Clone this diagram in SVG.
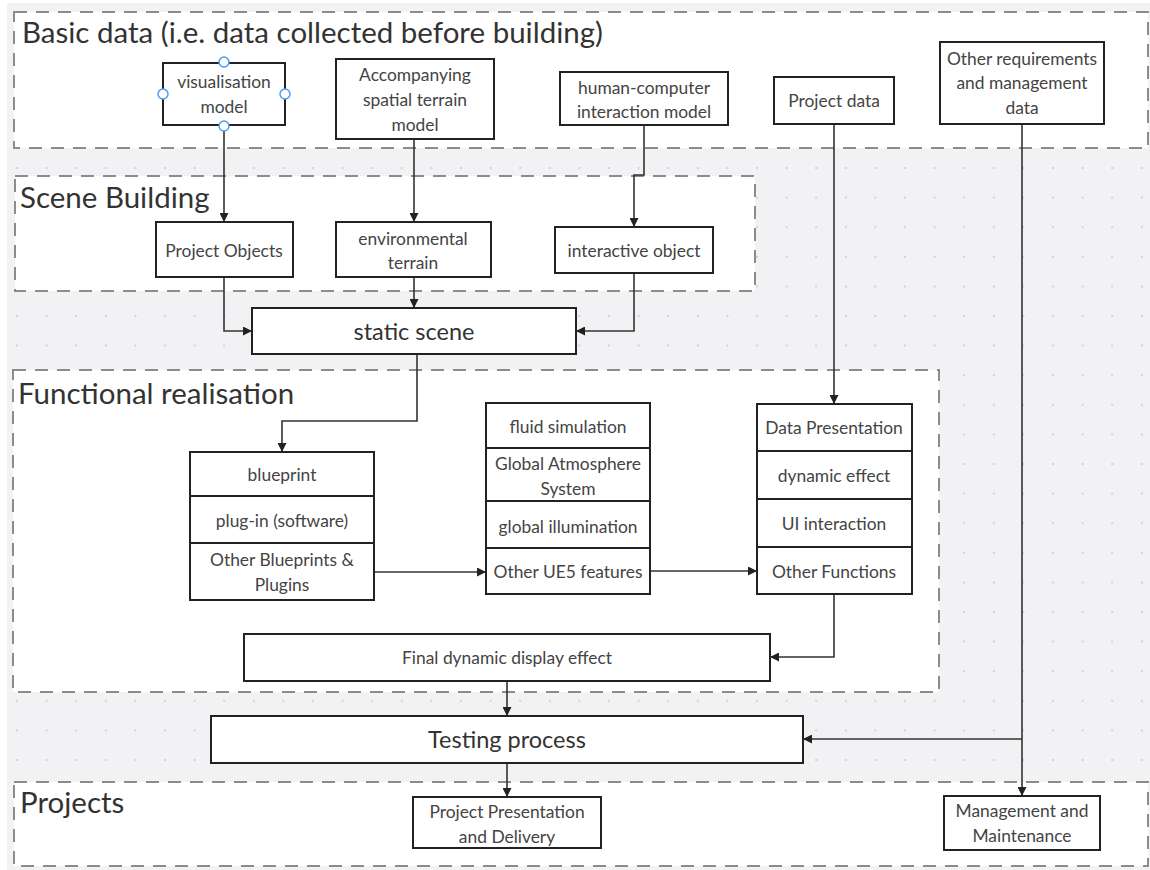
<svg xmlns="http://www.w3.org/2000/svg" width="1150" height="870" viewBox="0 0 1150 870">
<style>
.grp{fill:#ffffff;stroke:#8c8c8c;stroke-width:2;stroke-dasharray:13 9}
.title{font-family:Lato,"Noto Sans",sans-serif;font-size:29.5px;fill:#333}
.box{fill:#ffffff;stroke:#222;stroke-width:2}
.t{font-family:Lato,"Noto Sans",sans-serif;font-size:17.4px;fill:#444;text-anchor:middle;dominant-baseline:central}
.tl{font-family:Lato,"Noto Sans",sans-serif;font-size:23.5px;fill:#333;text-anchor:middle;dominant-baseline:central}
.c{fill:none;stroke:#333;stroke-width:1.6}
.h{fill:#fff;stroke:#4a9df8;stroke-width:1.5}
</style>
<defs>
<pattern id="dots" patternUnits="userSpaceOnUse" x="2.2" y="5.2" width="29.6" height="29.6">
<circle cx="14.8" cy="14.8" r="1" fill="#c9c9ce"/>
</pattern>
<marker id="arr" viewBox="0 0 10 10" refX="10" refY="5" markerWidth="9" markerHeight="9" markerUnits="userSpaceOnUse" orient="auto">
<path d="M0,0 L10,5 L0,10 z" fill="#222"/>
</marker>
</defs>
<rect x="0" y="0" width="1150" height="870" fill="#ffffff"/>
<rect x="7" y="3" width="1143" height="867" fill="#f2f2f4"/>
<rect x="7" y="3" width="1143" height="867" fill="url(#dots)"/>

<g id="group-basic-data">
<rect class="grp" x="14" y="12" width="1134" height="136"/>
<text class="title" x="22" y="43">Basic data (i.e. data collected before building)</text>
</g>
<g id="group-scene-building">
<rect class="grp" x="15" y="176" width="740" height="115"/>
<text class="title" x="20" y="208">Scene Building</text>
</g>
<g id="group-functional">
<rect class="grp" x="13" y="370" width="926" height="322"/>
<text class="title" x="18" y="404">Functional realisation</text>
</g>
<g id="group-projects">
<rect class="grp" x="14" y="782" width="1134" height="84"/>
<text class="title" x="20" y="813">Projects</text>
</g>

<g id="connectors">
<path class="c" d="M224,125 V222" marker-end="url(#arr)"/>
<path class="c" d="M414,139 V222" marker-end="url(#arr)"/>
<path class="c" d="M644,125 V175 H634 V227" marker-end="url(#arr)"/>
<path class="c" d="M224,277 V331 H252" marker-end="url(#arr)"/>
<path class="c" d="M414,277 V308" marker-end="url(#arr)"/>
<path class="c" d="M634,273 V331 H576" marker-end="url(#arr)"/>
<path class="c" d="M417,354 V421 H282 V452" marker-end="url(#arr)"/>
<path class="c" d="M834,124 V404" marker-end="url(#arr)"/>
<path class="c" d="M374,572 H486" marker-end="url(#arr)"/>
<path class="c" d="M650,571 H757" marker-end="url(#arr)"/>
<path class="c" d="M834,594 V657 H770" marker-end="url(#arr)"/>
<path class="c" d="M507,681 V716" marker-end="url(#arr)"/>
<path class="c" d="M507,763 V797" marker-end="url(#arr)"/>
<path class="c" d="M1022,124 V796" marker-end="url(#arr)"/>
<path class="c" d="M1022,739 H803" marker-end="url(#arr)"/>
</g>

<g id="node-visualisation-model">
<rect class="box" x="163" y="63" width="122" height="62"/>
<text class="t" x="224" y="81">visualisation</text>
<text class="t" x="224" y="106">model</text>
<circle class="h" cx="224" cy="62" r="5"/>
<circle class="h" cx="163" cy="94" r="5"/>
<circle class="h" cx="285" cy="94" r="5"/>
<circle class="h" cx="224" cy="126" r="5"/>
</g>
<g id="node-terrain-model">
<rect class="box" x="336" y="59" width="158" height="80"/>
<text class="t" x="415" y="74">Accompanying</text>
<text class="t" x="415" y="99">spatial terrain</text>
<text class="t" x="415" y="124">model</text>
</g>
<g id="node-hci-model">
<rect class="box" x="560" y="72" width="168" height="53"/>
<text class="t" x="644" y="87">human-computer</text>
<text class="t" x="644" y="111">interaction model</text>
</g>
<g id="node-project-data">
<rect class="box" x="774" y="77" width="120" height="47"/>
<text class="t" x="834" y="100">Project data</text>
</g>
<g id="node-other-requirements">
<rect class="box" x="940" y="42" width="164" height="82"/>
<text class="t" x="1022" y="58">Other requirements</text>
<text class="t" x="1022" y="82">and management</text>
<text class="t" x="1022" y="107">data</text>
</g>

<g id="node-project-objects">
<rect class="box" x="156" y="222" width="137" height="55"/>
<text class="t" x="224" y="250">Project Objects</text>
</g>
<g id="node-environmental-terrain">
<rect class="box" x="336" y="222" width="155" height="55"/>
<text class="t" x="413" y="238">environmental</text>
<text class="t" x="413" y="262">terrain</text>
</g>
<g id="node-interactive-object">
<rect class="box" x="555" y="227" width="158" height="46"/>
<text class="t" x="634" y="250">interactive object</text>
</g>

<g id="node-static-scene">
<rect class="box" x="252" y="308" width="324" height="46"/>
<text class="tl" x="414" y="331">static scene</text>
</g>

<g id="node-blueprint-stack">
<rect class="box" x="190" y="452" width="184" height="44"/>
<text class="t" x="282" y="474">blueprint</text>
<rect class="box" x="190" y="496" width="184" height="47"/>
<text class="t" x="282" y="520">plug-in (software)</text>
<rect class="box" x="190" y="543" width="184" height="57"/>
<text class="t" x="282" y="559">Other Blueprints &amp;</text>
<text class="t" x="282" y="584">Plugins</text>
</g>
<g id="node-ue5-stack">
<rect class="box" x="486" y="403" width="164" height="45"/>
<text class="t" x="568" y="426">fluid simulation</text>
<rect class="box" x="486" y="448" width="164" height="53"/>
<text class="t" x="568" y="463">Global Atmosphere</text>
<text class="t" x="568" y="488">System</text>
<rect class="box" x="486" y="501" width="164" height="47"/>
<text class="t" x="568" y="526">global illumination</text>
<rect class="box" x="486" y="548" width="164" height="46"/>
<text class="t" x="568" y="571">Other UE5 features</text>
</g>
<g id="node-functions-stack">
<rect class="box" x="757" y="404" width="155" height="47"/>
<text class="t" x="834" y="427">Data Presentation</text>
<rect class="box" x="757" y="451" width="155" height="48"/>
<text class="t" x="834" y="475">dynamic effect</text>
<rect class="box" x="757" y="499" width="155" height="48"/>
<text class="t" x="834" y="523">UI interaction</text>
<rect class="box" x="757" y="547" width="155" height="47"/>
<text class="t" x="834" y="571">Other Functions</text>
</g>

<g id="node-final-display">
<rect class="box" x="244" y="634" width="526" height="47"/>
<text class="t" x="507" y="657">Final dynamic display effect</text>
</g>
<g id="node-testing">
<rect class="box" x="211" y="716" width="592" height="47"/>
<text class="tl" x="507" y="739">Testing process</text>
</g>
<g id="node-presentation-delivery">
<rect class="box" x="413" y="797" width="188" height="51"/>
<text class="t" x="507" y="811">Project Presentation</text>
<text class="t" x="507" y="836">and Delivery</text>
</g>
<g id="node-management">
<rect class="box" x="944" y="796" width="156" height="54"/>
<text class="t" x="1022" y="810">Management and</text>
<text class="t" x="1022" y="835">Maintenance</text>
</g>
</svg>
